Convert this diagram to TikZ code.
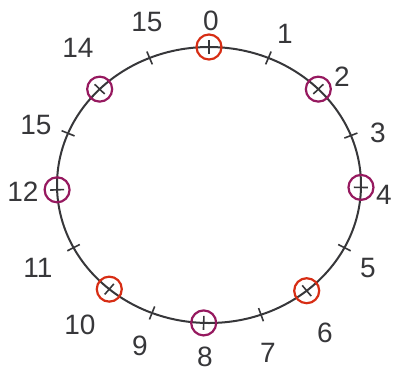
\documentclass[tikz,border=0pt]{standalone}
\usepackage{fontspec}
\setmainfont{Liberation Sans}
\definecolor{inkgray}{RGB}{55,55,58}
\definecolor{markred}{RGB}{215,45,20}
\definecolor{markpurple}{RGB}{150,25,95}
\begin{document}
\begin{tikzpicture}[x=1pt,y=-1pt,
    ring/.style={circle, draw=#1, line width=2.2pt, minimum size=25pt, inner sep=0pt},
    num/.style={font=\fontsize{28}{28}\selectfont, text=inkgray, inner sep=1pt}]
  \useasboundingbox (0,0) rectangle (397,376);
  \begin{scope}[shift={(209,185)}, yscale=-1]
    \draw[inkgray, line width=2pt] (0,0) ellipse [x radius=152, y radius=138];
    \foreach \i/\ang in {0/90,1/67,2/44,3/21,4/-1,5/-27,6/-50,7/-70,8/-92,9/-112,10/-131,11/-153,12/182,13/158,14/136,15/113}
    {
      \coordinate (p\i) at (\ang:152 and 138);
      \draw[inkgray, line width=1.6pt] (\ang:145 and 131) -- (\ang:159 and 145);
    }
  \end{scope}
  % circled points
  \node[ring=markred] (r0) at (p0) {};
  \node[ring=markpurple] (r2) at (p2) {};
  \node[ring=markpurple] (r4) at (p4) {};
  \node[ring=markred] (r6) at (p6) {};
  \node[ring=markpurple] (r8) at (p8) {};
  \node[ring=markred] (r10) at (p10) {};
  \node[ring=markpurple] (r12) at (p12) {};
  \node[ring=markpurple] (r14) at (p14) {};
  % labels
  \foreach \i/\txt/\lx/\ly in {0/0/211/21,1/1/285/34,2/2/342/77,3/3/378/133,4/4/384/195,5/5/368/268,6/6/325/333,7/7/268/353,8/8/205/357,9/9/140/346,10/10/80/325,11/11/38/268,12/12/23/192,13/15/36/125,14/14/78/48,15/15/147/22}
    \node[num] (l\i) at (\lx,\ly) {\txt};
\end{tikzpicture}
\end{document}
